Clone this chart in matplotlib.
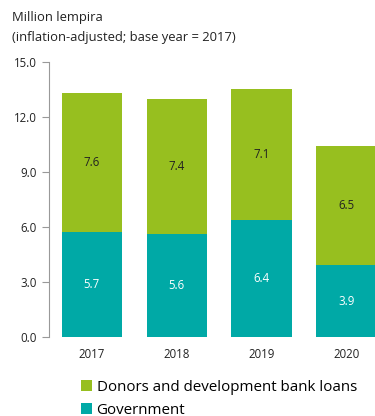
import matplotlib
matplotlib.use("Agg")
import matplotlib.pyplot as plt
from matplotlib.patches import Patch

years = ["2017", "2018", "2019", "2020"]
government = [5.7, 5.6, 6.4, 3.9]
donors = [7.6, 7.4, 7.1, 6.5]
y_ticks = [0.0, 3.0, 6.0, 9.0, 12.0, 15.0]

green = "#97BF1F"
teal = "#00A9A6"

plt.rcParams["font.family"] = ["Open Sans", "DejaVu Sans"]

fig = plt.figure(figsize=(3.75, 4.16), dpi=100)
ax = fig.add_axes([0.1307, 0.19, 0.8693, 0.661])

x = list(range(len(years)))
ax.bar(x, government, width=0.71, color=teal, zorder=2)
ax.bar(x, donors, width=0.71, bottom=government, color=green, zorder=2)

for i in x:
    ax.text(i, government[i] / 2, f"{government[i]:.1f}", ha="center", va="center",
            color="white", fontsize=8.3)
    ax.text(i, government[i] + donors[i] / 2, f"{donors[i]:.1f}", ha="center", va="center",
            color="#222222", fontsize=8.3)

ax.set_ylim(0, 15)
ax.set_xlim(-0.506, 3.34)
ax.set_yticks(y_ticks)
ax.set_yticklabels([f"{v:.1f}" for v in y_ticks], fontsize=8.3, color="#222222")
ax.set_xticks(x)
ax.set_xticklabels(years, fontsize=8.3, color="#222222")
ax.tick_params(axis="x", length=0, pad=8)
ax.tick_params(axis="y", length=5, width=0.8, color="#999999", pad=4)

for s in ["top", "right", "bottom"]:
    ax.spines[s].set_visible(False)
ax.spines["left"].set_color("#999999")
ax.spines["left"].set_linewidth(0.8)

fig.text(0.032, 0.957, "Million lempira", fontsize=9.4, color="#222222", va="center")
fig.text(0.032, 0.911, "(inflation-adjusted; base year = 2017)", fontsize=9.4,
         color="#222222", va="center")

handles = [Patch(facecolor=green, label="Donors and development bank loans"),
           Patch(facecolor=teal, label="Government")]
fig.legend(handles=handles, loc="upper left", bbox_to_anchor=(0.215, 0.087),
           frameon=False, fontsize=10.9, handlelength=0.75, handleheight=0.75,
           handletextpad=0.3, labelspacing=0.55, borderaxespad=0, borderpad=0)

fig.savefig("out.png", dpi=100)
